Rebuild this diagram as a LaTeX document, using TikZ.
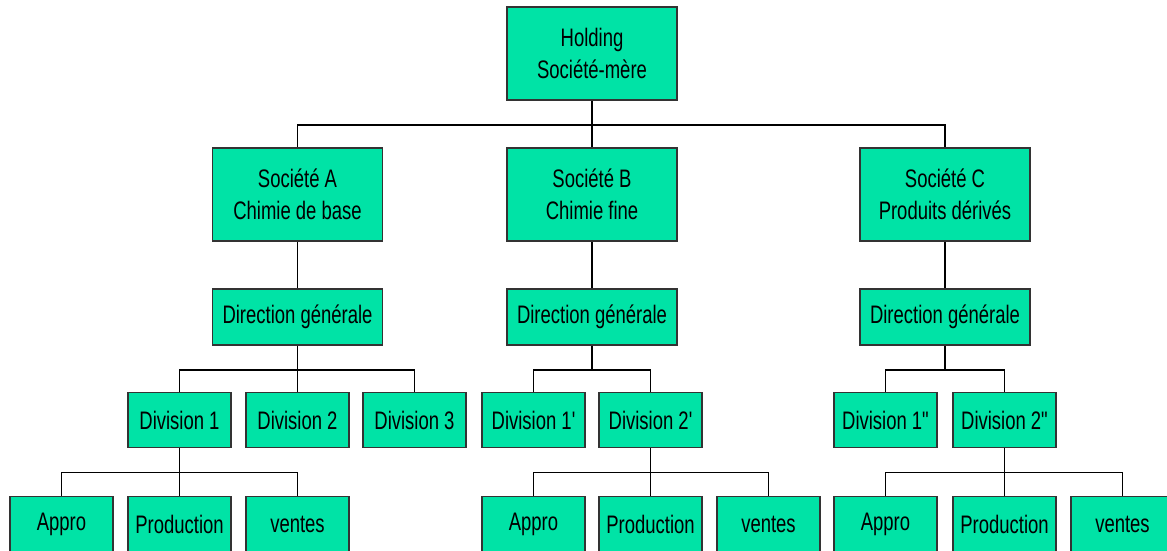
\documentclass[tikz,border=0pt]{standalone}
\usepackage{fontspec}
\setmainfont[FakeStretch=0.73, Ligatures=TeXOff]{Liberation Sans}
\usepackage{tikz}
\usetikzlibrary{positioning}

\definecolor{menthe}{RGB}{0,227,166}

\begin{document}
\begin{tikzpicture}[x=0.025cm, y=-0.025cm, line width=1.1pt,
		boite/.style={draw=black!80, fill=menthe, align=center, inner sep=0pt,
			font=\fontsize{18}{23}\selectfont},
		grande/.style={boite, minimum width=4.25cm, minimum height=2.325cm},
		moyenne/.style={boite, minimum width=4.25cm, minimum height=1.4cm},
		petite/.style={boite, minimum width=2.575cm, minimum height=1.375cm},
		arbre/.style={to path={-- ++(0,-0.6cm) -| (\tikztotarget)}}]
		\useasboundingbox (0,0) rectangle (1167,551);

		\node[grande] (h) at (592, 53.5) {Holding\\Société-mère};

		\node[grande] (a) at (297.5, 194.5) {Société A\\Chimie de base};
		\node[grande] (b) at (592, 194.5) {Société B\\Chimie fine};
		\node[grande] (c) at (945, 194.5) {Société C\\Produits dérivés};

		\node[moyenne] (da) at (297.5, 317) {Direction générale};
		\node[moyenne] (db) at (592, 317) {Direction générale};
		\node[moyenne] (dc) at (945, 317) {Direction générale};

		\node[petite] (a1) at (179.5, 420) {Division 1};
		\node[petite] (a2) at (297.5, 420) {Division 2};
		\node[petite] (a3) at (414.5, 420) {Division 3};
		\node[petite] (b1) at (533.5, 420) {Division 1'};
		\node[petite] (b2) at (650.5, 420) {Division 2'};
		\node[petite] (c1) at (885.5, 420) {Division 1"};
		\node[petite] (c2) at (1004.5, 420) {Division 2"};

		\node[petite] (a1p) at (61.5, 524) {Appro};
		\node[petite] (a1q) at (179.5, 524) {Production};
		\node[petite] (a1r) at (297.5, 524) {ventes};
		\node[petite] (b2p) at (533.5, 524) {Appro};
		\node[petite] (b2q) at (650.5, 524) {Production};
		\node[petite] (b2r) at (768.5, 524) {ventes};
		\node[petite] (c2p) at (885.5, 524) {Appro};
		\node[petite] (c2q) at (1004.5, 524) {Production};
		\node[petite] (c2r) at (1122.5, 524) {ventes};

		\path (h.south) edge[arbre] (a.north)
			(h.south) edge[arbre] (c.north)
			(h) edge (b)
			(a) edge (da)
			(b) edge (db)
			(c) edge (dc)
			(da.south) edge[arbre] (a1.north)
			(da.south) edge[arbre] (a3.north)
			(da) edge (a2)
			(db.south) edge[arbre] (b1.north)
			(db.south) edge[arbre] (b2.north)
			(dc.south) edge[arbre] (c1.north)
			(dc.south) edge[arbre] (c2.north)
			(a1.south) edge[arbre] (a1p.north)
			(a1.south) edge[arbre] (a1r.north)
			(a1) edge (a1q)
			(b2.south) edge[arbre] (b2p.north)
			(b2.south) edge[arbre] (b2r.north)
			(b2) edge (b2q)
			(c2.south) edge[arbre] (c2p.north)
			(c2.south) edge[arbre] (c2r.north)
			(c2) edge (c2q);
	\end{tikzpicture}
\end{document}
